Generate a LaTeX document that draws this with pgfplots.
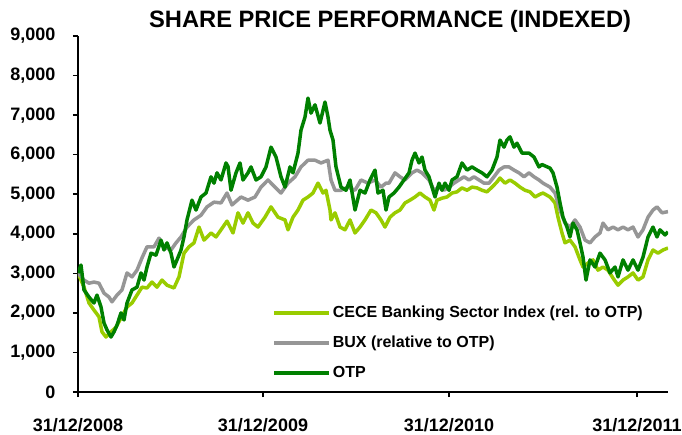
\documentclass[border=0pt]{standalone}
\usepackage{fontspec}
\setmainfont{Liberation Sans}
\usepackage{pgfplots}
\pgfplotsset{compat=1.18}
\usepackage{pgfplotstable}
\definecolor{cece}{RGB}{153,204,0}
\definecolor{bux}{RGB}{150,150,150}
\definecolor{otp}{RGB}{0,128,0}

\pgfplotstableread{
x y
0 3008
6 2650
11 2250
16 2070
21 1900
24 1520
28 1390
33 1520
38 1640
43 1870
49 2150
54 2250
59 2450
64 2650
69 2630
74 2780
79 2650
84 2830
89 2700
96 2630
101 2910
106 3510
111 3670
116 3770
121 4170
126 3840
133 4020
138 3920
143 4100
149 4320
155 4020
160 4530
165 4270
170 4530
175 4270
180 4170
187 4420
193 4680
200 4420
207 4350
210 4100
215 4420
220 4600
225 4850
230 4930
235 5030
240 5280
245 5030
248 5100
252 4600
253 4350
257 4530
262 4170
267 4100
272 4350
277 4020
282 4170
287 4350
293 4600
298 4530
303 4350
307 4170
312 4420
317 4530
322 4600
327 4780
332 4850
337 4930
342 5030
347 4930
352 4850
356 4600
359 4850
364 4900
369 4930
374 5030
379 5060
384 5160
389 5100
394 5180
399 5160
404 5100
409 5060
414 5180
419 5310
422 5410
427 5280
432 5360
437 5280
442 5180
447 5100
452 5060
457 4930
462 5000
465 5030
472 4930
477 4780
480 4420
484 4020
487 3770
492 3840
497 3670
502 3340
505 3160
510 3260
515 3340
520 3080
525 3160
530 3080
535 2880
540 2700
545 2830
550 2910
555 3010
560 2830
565 2910
570 3340
575 3590
580 3510
585 3590
590 3640
}\cecedata

\pgfplotstableread{
x y
0 3008
6 2830
11 2750
16 2780
21 2750
26 2500
31 2400
34 2280
39 2450
44 2580
49 3010
54 2910
59 3080
64 3390
69 3670
76 3670
81 3890
86 3670
93 3590
98 3770
103 3920
109 4170
116 4350
123 4470
129 4680
136 4800
143 4780
149 5030
154 4730
163 4930
170 4850
177 4930
183 5180
190 5360
197 5180
203 5030
210 5280
217 5440
223 5690
230 5860
237 5860
243 5790
250 5860
253 5360
257 5100
263 5100
270 5180
277 5100
283 5360
290 5280
297 5360
303 5180
308 5280
311 5280
317 5540
322 5440
327 5360
334 5540
339 5610
344 5540
351 5360
356 5100
361 5180
366 5100
371 5180
376 5280
381 5360
386 5440
391 5360
396 5440
401 5360
406 5280
411 5280
416 5440
421 5610
426 5690
431 5690
436 5610
441 5540
446 5440
451 5540
456 5440
461 5360
465 5280
472 5180
477 5030
482 4600
487 4270
492 4170
497 4350
502 4170
507 3840
512 3770
517 3920
522 4020
525 4270
530 4100
535 4170
540 4100
545 4170
550 4100
555 4170
560 3920
565 4100
570 4420
575 4600
579 4680
584 4530
590 4560
}\buxdata

\pgfplotstableread{
x y
0 3008
3 3210
6 2580
11 2400
16 2250
19 2450
23 2150
26 1745
29 1570
33 1390
36 1520
39 1690
43 2000
46 1820
49 2250
54 2580
59 2650
63 3010
66 2830
69 3160
73 3510
78 3460
83 3840
86 3590
89 3770
93 3510
96 3160
99 3340
103 3590
106 3920
109 4350
114 4850
118 4600
123 4930
128 5030
133 5440
136 5280
139 5540
143 5360
148 5790
150 5700
153 5100
158 5540
162 5790
165 5360
170 5540
173 5690
178 5360
183 5440
188 5690
193 6190
198 5940
203 5440
207 5180
212 5690
215 5540
220 6040
223 6620
227 6950
230 7430
233 7050
237 7260
242 6800
247 7330
250 6950
252 6620
255 6370
258 5690
263 5180
268 5100
272 5360
277 4600
282 5100
287 5030
292 5360
297 5610
300 5030
305 5100
308 4600
311 4930
316 5030
321 5180
326 5360
331 5540
334 5860
337 6040
341 5790
344 5940
347 5610
351 5440
354 5180
357 4930
361 5280
364 5100
367 5280
371 5100
374 5360
379 5440
384 5790
389 5610
394 5690
399 5610
404 5540
409 5440
414 5610
419 5940
422 6370
426 6190
429 6370
432 6450
436 6190
439 6290
444 6040
451 6040
456 5940
461 5690
464 5750
472 5660
475 5540
479 5180
482 4780
485 4420
489 4170
492 3920
495 4270
499 4100
502 3770
505 3410
508 2830
512 3340
517 3160
522 3510
527 3340
532 3010
537 3160
540 2910
545 3340
550 3080
555 3340
560 3080
565 3410
570 3920
575 4170
579 3920
582 4100
587 3970
590 4050
}\otpdata

\begin{document}
\begin{tikzpicture}
\begin{axis}[
  width=590pt, height=356pt, scale only axis,
  xmin=0, xmax=590, ymin=0, ymax=9000,
  axis x line=bottom, axis y line=left,
  axis line style={-, line width=2.5pt, black},
  xtick={0,185,371,559},
  xticklabels={31/12/2008,31/12/2009,31/12/2010,31/12/2011},
  ytick={0,1000,...,9000},
  tick align=outside, major tick length=5pt,
  tick style={line width=1.5pt, black},
  x tick label style={yshift=-18pt},
  y tick label style={xshift=-14pt},
  ticklabel style={font=\bfseries\fontsize{18}{18}\selectfont},
  /pgf/number format/assume math mode=true,
  /pgf/number format/1000 sep={,},
  scaled y ticks=false,
  title={SHARE PRICE PERFORMANCE (INDEXED)},
  title style={font=\bfseries\fontsize{23.7}{28}\selectfont, at={(0.529,1)}, anchor=center, yshift=9pt},
  legend style={draw=none, fill=none, at={(0.329,0.247)}, anchor=north west,
    font=\bfseries\fontsize{16}{16}\selectfont, row sep=13pt, inner sep=0pt,
    /tikz/every even column/.append style={column sep=0pt}},
  legend cell align=left,
  legend image code/.code={\draw[#1] (0pt,0pt) -- (55pt,0pt);},
]
\addplot[cece, line width=3.5pt, line join=round] table {\cecedata};
\addlegendentry{CECE Banking Sector Index (rel. to OTP)}
\addplot[bux, line width=3.5pt, line join=round] table {\buxdata};
\addlegendentry{BUX (relative to OTP)}
\addplot[otp, line width=3.5pt, line join=round] table {\otpdata};
\addlegendentry{OTP}
\end{axis}
\pgfresetboundingbox
\path[use as bounding box] (-78pt,-42pt) rectangle (604pt,392pt);
\end{tikzpicture}
\end{document}
